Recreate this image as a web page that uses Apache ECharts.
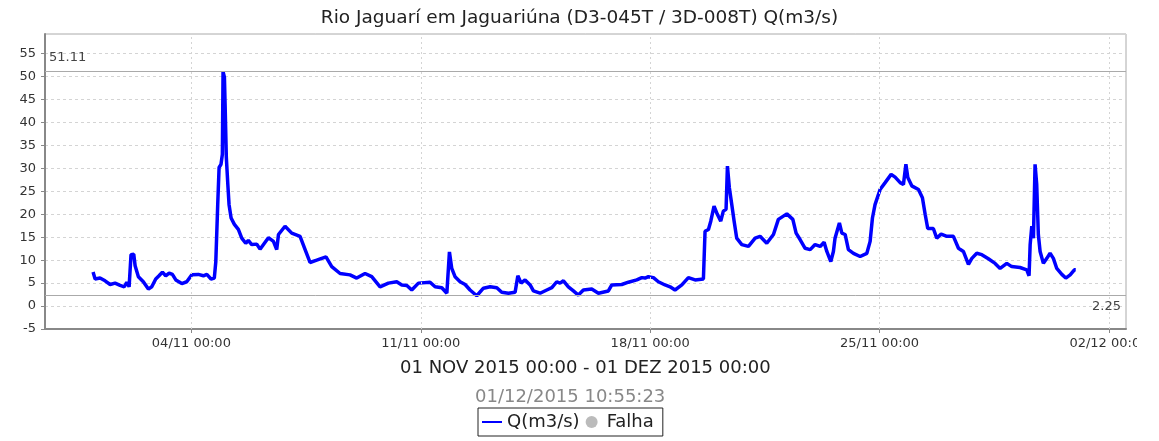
<!DOCTYPE html>
<html>
<head>
<meta charset="utf-8">
<script src="https://cdn.jsdelivr.net/npm/echarts@6/dist/echarts.min.js"></script>
<style>
  html, body { margin: 0; padding: 0; background: #fff; }
  #wrap { width: 1137px; height: 441px; overflow: hidden; }
  #chart { width: 1159px; height: 441px; }
</style>
</head>
<body>
<div id="wrap"><div id="chart"></div></div>
<script>
// hours since 01/11/2015 00:00
const hours = [
  0, 1.5, 5.1, 8.8, 12.5, 16.1, 19.8, 22.9, 24.7, 26.4, 27.8, 29.8, 30.8, 33.2, 36.8,
  40.5, 43.0, 45.9, 48.3, 50.8, 53.2, 55.7, 58.1, 60.6, 65.0, 68.6, 72.3, 77.1, 80.8,
  83.3, 86.4, 88.8, 89.9, 91.3, 92.3, 93.7, 94.7, 95.2, 96.2, 96.7, 97.6, 98.7, 99.6,
  101.1, 103.5, 106.4, 108.9, 111.8, 113.7, 116.2, 119.9, 122.3, 128.4, 132.1, 134.5,
  135.8, 140.6, 145.5, 151.6, 155.3, 158.9, 163.8, 170.6, 174.8, 180.9, 188.2, 193.1,
  199.2, 204.1, 210.2, 216.3, 222.4, 226.1, 229.8, 233.4, 238.3, 246.8, 250.5, 255.4,
  259.1, 261.0, 262.7, 265.1, 268.8, 272.5, 276.1, 281.0, 285.9, 290.8, 295.7, 299.3,
  304.2, 309.1, 311.1, 313.5, 316.4, 320.1, 322.5, 327.4, 332.3, 336.0, 339.6, 342.0,
  344.5, 348.1, 351.8, 355.4, 359.1, 365.2, 370.1, 377.4, 379.9, 387.2, 392.1, 398.2,
  401.9, 404.3, 406.7, 410.4, 414.0, 418.9, 422.6, 426.2, 431.2, 436.0, 440.9, 447.0,
  448.2, 450.7, 452.4, 454.8, 457.2, 459.7, 461.6, 463.6, 464.6, 466.0, 467.8, 469.5,
  471.4, 475.1, 480.0, 484.9, 488.5, 493.4, 498.3, 501.9, 508.1, 512.5, 514.9, 517.8,
  521.5, 525.2, 528.8, 532.5, 535.4, 537.4, 540.3, 542.2, 543.4, 546.6, 548.4, 550.8,
  553.2, 556.9, 561.8, 566.7, 569.1, 570.8, 572.7, 576.4, 580.1, 584.5, 587.4, 591.1,
  593.5, 595.3, 596.7, 599.6, 604.5, 607.4, 609.4, 611.3, 615.4, 617.9, 621.1, 625.3,
  630.1, 633.8, 637.4, 641.1, 643.6, 647.2, 650.9, 655.7, 660.6, 664.3, 669.2, 672.8,
  678.9, 683.8, 685.5, 686.3, 687.5, 688.7, 689.9, 691.1, 692.3, 693.6, 696.0, 698.5,
  700.9, 703.3, 705.8, 709.5, 712.4, 715.6, 718.7, 719.7
];
const flow = [
  7.4, 5.9, 6.1, 5.5, 4.7, 5.0, 4.5, 4.2, 5.2, 4.2, 11.2, 11.3, 8.8, 6.4, 5.3,
  3.7, 4.2, 5.9, 6.6, 7.4, 6.6, 7.2, 6.9, 5.7, 4.9, 5.3, 6.8, 6.9, 6.6,
  6.9, 5.9, 6.1, 9.7, 22.1, 30.2, 30.9, 33.1, 51.11, 49.9, 44.0, 32.4, 26.5, 22.1,
  19.2, 17.8, 16.7, 14.8, 13.7, 14.3, 13.4, 13.5, 12.4, 14.9, 14.1, 12.3,
  15.6, 17.4, 15.9, 15.2, 12.3, 9.5, 10.0, 10.7, 8.6, 7.1, 6.8, 6.1,
  7.1, 6.4, 4.2, 5.0, 5.3, 4.6, 4.5, 3.5, 5.0, 5.2, 4.2, 4.0,
  2.8, 11.8, 8.2, 6.4, 5.3, 4.7, 3.5, 2.25, 3.9, 4.2, 4.0, 3.0,
  2.8, 3.0, 6.6, 5.0, 5.7, 4.6, 3.3, 2.8, 3.5, 4.0, 5.3, 5.0,
  5.5, 4.2, 3.3, 2.4, 3.5, 3.7, 2.8, 3.3, 4.6, 4.7, 5.2, 5.7,
  6.2, 6.1, 6.4, 6.2, 5.3, 4.6, 4.2, 3.5, 4.6, 6.2, 5.7, 5.9,
  16.3, 16.7, 18.5, 21.8, 20.0, 18.5, 20.7, 21.1, 30.5, 25.8, 22.1, 18.5,
  14.8, 13.4, 13.0, 14.8, 15.2, 13.7, 15.6, 18.9, 20.1, 18.9, 15.9, 14.5,
  12.6, 12.3, 13.4, 13.0, 13.9, 11.9, 9.7, 11.9, 14.8, 18.1, 15.9, 15.6,
  12.3, 11.5, 10.8, 11.5, 14.1, 19.2, 22.1, 25.4, 26.9, 28.7, 28.1, 26.9,
  26.5, 30.9, 28.0, 26.2, 25.4, 23.6, 20.0, 16.9, 16.9, 14.8, 15.7, 15.2,
  15.2, 12.6, 11.9, 9.1, 10.4, 11.5, 11.2, 10.3, 9.3, 8.2, 9.3, 8.6,
  8.4, 7.9, 6.6, 13.4, 17.4, 14.8, 30.9, 26.5, 15.6, 11.9, 9.3, 10.4,
  11.5, 10.4, 8.2, 6.9, 6.1, 6.8, 7.9, 7.9
];
// x ticks, hours since 01/11/2015 00:00 (04/11, 11/11, 18/11, 25/11, 02/12)
const xTickHours = [72, 240, 408, 576, 744];
const yMaxMark = 51.11;
const yMinMark = 2.25;

const FONT = 'DejaVu Sans';
const start = Date.UTC(2015, 10, 1);
const points = hours.map((h, i) => [h, flow[i]]);

function pad(n) { return (n < 10 ? '0' : '') + n }
function hourLabel(h) {
  const d = new Date(start + h * 3600e3);
  return pad(d.getUTCDate()) + '/' + pad(d.getUTCMonth() + 1) + ' ' +
    pad(d.getUTCHours()) + ':' + pad(d.getUTCMinutes());
}

// plain line legend icon (degenerate subpaths keep the 20x12 box unscaled)
const lineIcon = 'path://M0,0L20,0Z M0,5L20,5L20,7L0,7Z M0,12L20,12Z';

const chart = echarts.init(document.getElementById('chart'));
chart.setOption({
  animation: false,
  textStyle: { fontFamily: FONT },
  title: [
    {
      text: 'Rio Jaguarí em Jaguariúna (D3-045T / 3D-008T) Q(m3/s)',
      left: 'center', top: 4,
      textStyle: { fontFamily: FONT, fontSize: 18.5, fontWeight: 'normal', color: '#222' }
    },
    {
      text: '01 NOV 2015 00:00 - 01 DEZ 2015 00:00',
      left: 395, top: 354,
      textStyle: { fontFamily: FONT, fontSize: 18, fontWeight: 'normal', color: '#222' }
    },
    {
      text: '01/12/2015 10:55:23',
      left: 470, top: 383,
      textStyle: { fontFamily: FONT, fontSize: 18, fontWeight: 'normal', color: '#888' }
    }
  ],
  legend: {
    left: 478, top: 408,
    padding: [5, 9, 5, 4],
    itemGap: 6,
    itemWidth: 20,
    itemHeight: 12,
    borderColor: '#222',
    borderWidth: 1,
    borderRadius: 0,
    textStyle: { fontFamily: FONT, fontSize: 18, color: '#222' },
    data: [
      { name: 'Q(m3/s)', icon: lineIcon },
      { name: 'Falha', icon: 'circle' }
    ]
  },
  grid: {
    left: 45, right: 33, top: 34, bottom: 112,
    show: true, borderColor: '#aaa', borderWidth: 1
  },
  xAxis: {
    type: 'value',
    min: -35.2,
    max: 756.5,
    axisLine: { onZero: false, lineStyle: { color: '#888', width: 2 } },
    axisTick: { show: true, length: 4, customValues: xTickHours, lineStyle: { color: '#888' } },
    axisLabel: {
      customValues: xTickHours,
      fontFamily: FONT, fontSize: 13, color: '#333', margin: 8,
      formatter: hourLabel
    },
    splitLine: { show: false }
  },
  yAxis: {
    type: 'value',
    min: -5, max: 59.3, interval: 5,
    axisLine: { show: true, onZero: false, lineStyle: { color: '#888', width: 2 } },
    axisTick: { show: true, length: 4, lineStyle: { color: '#888' } },
    axisLabel: {
      fontFamily: FONT, fontSize: 13, color: '#333', margin: 9,
      showMaxLabel: false
    },
    splitLine: { lineStyle: { color: '#d4d4d4', type: [3, 3] } }
  },
  series: [
    {
      name: 'Q(m3/s)',
      type: 'line',
      data: points,
      symbol: 'none',
      color: '#0000ff',
      lineStyle: { color: '#0000ff', width: 3.5 },
      z: 3,
      markLine: {
        silent: true,
        symbol: 'none',
        precision: 2,
        data: [
          ...xTickHours.map(t => ({
            xAxis: t,
            lineStyle: { color: '#d4d4d4', type: [2, 3], width: 1 },
            label: { show: false }
          })),
          {
            yAxis: yMaxMark,
            lineStyle: { color: '#aaa', type: 'solid', width: 1 },
            label: { show: true, position: 'insideStartTop', distance: [4, 7],
              fontFamily: FONT, fontSize: 13, color: '#444', formatter: '{c}' }
          },
          {
            yAxis: yMinMark,
            lineStyle: { color: '#aaa', type: 'solid', width: 1 },
            label: { show: true, position: 'insideEndBottom', distance: [5, 4],
              fontFamily: FONT, fontSize: 13, color: '#444', formatter: '{c}' }
          }
        ]
      }
    },
    {
      name: 'Falha',
      type: 'line',
      data: [],
      symbol: 'circle',
      symbolKeepAspect: true,
      color: '#bbb'
    }
  ]
});
</script>
</body>
</html>
